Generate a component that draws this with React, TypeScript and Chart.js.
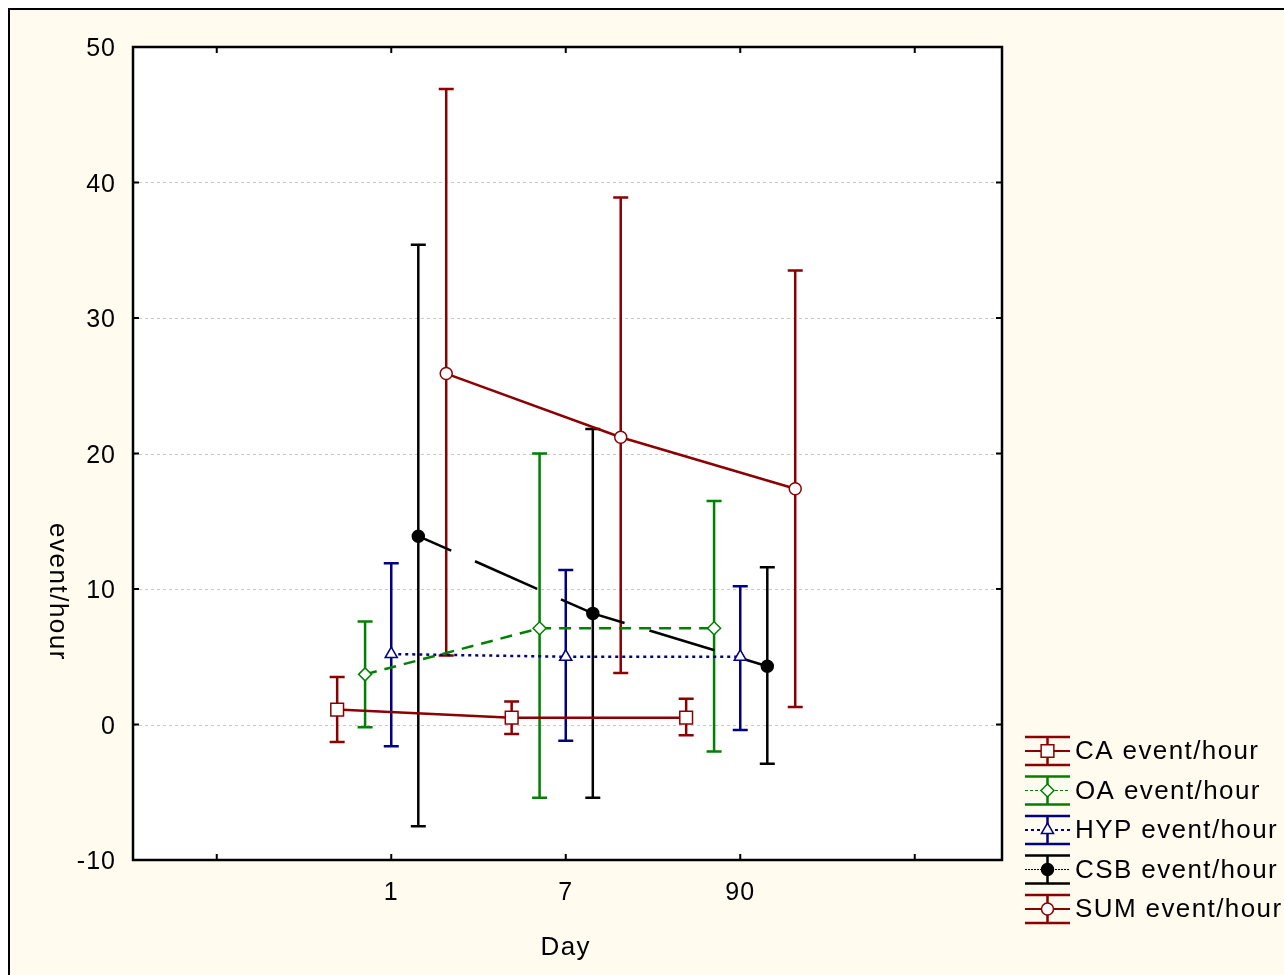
import React, { useEffect, useRef } from "react";
import { Chart, registerables } from "chart.js";
import { drawPoint } from "chart.js/helpers";

Chart.register(...registerables);

// categories on the x axis (Day)
const days = ["1", "7", "90"];
const seriesNames = ["CA event/hour", "OA event/hour", "HYP event/hour", "CSB event/hour", "SUM event/hour"];

// means and error bar ends
const caMean = [1.1, 0.5, 0.5];
const caHigh = [3.5, 1.7, 1.9];
const caLow = [-1.3, -0.7, -0.8];

const oaMean = [3.7, 7.1, 7.1];
const oaHigh = [7.6, 20.0, 16.5];
const oaLow = [-0.2, -5.4, -2.0];

const hypMean = [5.2, 5.0, 5.0];
const hypHigh = [11.9, 11.4, 10.2];
const hypLow = [-1.6, -1.2, -0.4];

const csbMean = [13.9, 8.2, 4.3];
const csbHigh = [35.4, 21.8, 11.6];
const csbLow = [-7.5, -5.4, -2.9];

const sumMean = [25.9, 21.2, 17.4];
const sumHigh = [46.9, 38.9, 33.5];
const sumLow = [5.1, 3.8, 1.3];

const yTicks = [-10, 0, 10, 20, 30, 40, 50];
const xTickMarks = [0, 1, 2, 3, 4];

const means = [caMean, oaMean, hypMean, csbMean, sumMean];
const highs = [caHigh, oaHigh, hypHigh, csbHigh, sumHigh];
const lows = [caLow, oaLow, hypLow, csbLow, sumLow];

// styling per series
const RED = "#8b0000";
const styles = [
  { color: RED, dash: [] as number[], dashOffset: 0, shape: "rect", radius: 9, fill: "#ffffff", offset: -0.31, legendWidth: 2, legendDash: [] as number[] },
  { color: "#008000", dash: [12, 8], dashOffset: 0, shape: "rectRot", radius: 6.5, fill: "#ffffff", offset: -0.15, legendWidth: 1, legendDash: [3, 2] },
  { color: "#000080", dash: [3, 4], dashOffset: 0, shape: "triangle", radius: 7, fill: "#ffffff", offset: 0, legendWidth: 2, legendDash: [3, 3] },
  { color: "#000000", dash: [68, 26], dashOffset: 32, shape: "circle", radius: 6, fill: "#000000", offset: 0.155, legendWidth: 1, legendDash: [2, 1] },
  { color: RED, dash: [], dashOffset: 0, shape: "circle", radius: 6, fill: "#ffffff", offset: 0.315, legendWidth: 2, legendDash: [] },
];

const FONT = "'Liberation Sans', Arial, sans-serif";

const decorPlugin = {
  id: "statDecor",
  beforeDraw(chart: any) {
    const { ctx, chartArea: a } = chart;
    ctx.save();
    ctx.fillStyle = "#ffffff";
    ctx.fillRect(a.left, a.top, a.right - a.left, a.bottom - a.top);
    ctx.restore();
  },
  beforeDatasetsDraw(chart: any) {
    const { ctx, chartArea: a, scales } = chart;
    ctx.save();
    // dashed horizontal grid
    ctx.strokeStyle = "#c8c8c8";
    ctx.lineWidth = 1;
    ctx.setLineDash([3, 3]);
    yTicks.forEach((v) => {
      if (v === -10 || v === 50) return;
      const y = Math.round(scales.y.getPixelForValue(v)) + 0.5;
      ctx.beginPath();
      ctx.moveTo(a.left, y);
      ctx.lineTo(a.right, y);
      ctx.stroke();
    });
    ctx.setLineDash([]);
    // error bars
    ctx.lineWidth = 2.5;
    means.forEach((m, i) => {
      ctx.strokeStyle = styles[i].color;
      m.forEach((_, j) => {
        const x = scales.x.getPixelForValue(j + 1 + styles[i].offset);
        const yh = scales.y.getPixelForValue(highs[i][j]);
        const yl = scales.y.getPixelForValue(lows[i][j]);
        ctx.beginPath();
        ctx.moveTo(x, yh);
        ctx.lineTo(x, yl);
        ctx.moveTo(x - 7.5, yh);
        ctx.lineTo(x + 7.5, yh);
        ctx.moveTo(x - 7.5, yl);
        ctx.lineTo(x + 7.5, yl);
        ctx.stroke();
      });
    });
    ctx.restore();
  },
  afterDraw(chart: any) {
    const { ctx, chartArea: a, scales } = chart;
    ctx.save();
    // frame
    ctx.strokeStyle = "#000";
    ctx.lineWidth = 2.5;
    ctx.strokeRect(a.left, a.top, a.right - a.left, a.bottom - a.top);
    // inward ticks
    ctx.lineWidth = 2;
    ctx.beginPath();
    yTicks.forEach((v) => {
      const y = scales.y.getPixelForValue(v);
      ctx.moveTo(a.left, y);
      ctx.lineTo(a.left + 6, y);
      ctx.moveTo(a.right, y);
      ctx.lineTo(a.right - 6, y);
    });
    xTickMarks.forEach((v) => {
      const x = scales.x.getPixelForValue(v);
      ctx.moveTo(x, a.bottom);
      ctx.lineTo(x, a.bottom - 6);
      ctx.moveTo(x, a.top);
      ctx.lineTo(x, a.top + 6);
    });
    ctx.stroke();

    // tick labels
    ctx.fillStyle = "#000";
    ctx.font = `25px ${FONT}`;
    (ctx as any).letterSpacing = "1px";
    ctx.textAlign = "right";
    ctx.textBaseline = "alphabetic";
    yTicks.forEach((v) => {
      ctx.fillText(String(v), a.left - 17, scales.y.getPixelForValue(v) + 9);
    });
    ctx.textAlign = "center";
    days.forEach((d, j) => {
      ctx.fillText(d, scales.x.getPixelForValue(j + 1), a.bottom + 40);
    });

    // axis titles
    ctx.font = `26px ${FONT}`;
    (ctx as any).letterSpacing = "1.5px";
    ctx.fillText("Day", scales.x.getPixelForValue(2), a.bottom + 95);
    ctx.save();
    ctx.translate(47, 582);
    ctx.rotate(Math.PI / 2);
    ctx.textBaseline = "middle";
    ctx.fillText("event/hour", 0, 0);
    ctx.restore();

    // legend
    const lx0 = 1015;
    const lx1 = 1060;
    const lxc = (lx0 + lx1) / 2;
    ctx.textAlign = "left";
    ctx.textBaseline = "middle";
    (ctx as any).letterSpacing = "1.4px";
    seriesNames.forEach((name, i) => {
      const s = styles[i];
      const y = 741 + i * 39.5;
      ctx.strokeStyle = s.color;
      ctx.lineWidth = 2.5;
      ctx.setLineDash([]);
      ctx.beginPath();
      ctx.moveTo(lx0, y - 14);
      ctx.lineTo(lx1, y - 14);
      ctx.moveTo(lx0, y + 14);
      ctx.lineTo(lx1, y + 14);
      ctx.moveTo(lxc, y - 14);
      ctx.lineTo(lxc, y + 14);
      ctx.stroke();
      ctx.lineWidth = s.legendWidth;
      ctx.setLineDash(s.legendDash);
      ctx.beginPath();
      ctx.moveTo(lx0, y);
      ctx.lineTo(lx1, y);
      ctx.stroke();
      ctx.setLineDash([]);
      ctx.fillStyle = s.fill;
      ctx.lineWidth = 1.5;
      drawPoint(ctx, { pointStyle: s.shape as any, rotation: 0, radius: s.radius, borderWidth: 1.5 }, lxc, y);
      ctx.fillStyle = "#000";
      ctx.fillText(name, lx1 + 5, y + 1);
    });
    ctx.restore();
  },
};

export default function App() {
  const canvasRef = useRef<HTMLCanvasElement>(null);
  const chartRef = useRef<Chart | null>(null);

  useEffect(() => {
    document.body.style.margin = "0";
    if (!canvasRef.current) return;
    const ctx = canvasRef.current.getContext("2d");
    if (!ctx) return;

    chartRef.current = new Chart(ctx, {
      type: "line",
      data: {
        datasets: means.map((m, i) => ({
          label: seriesNames[i],
          data: m.map((v, j) => ({ x: j + 1 + styles[i].offset, y: v })),
          borderColor: styles[i].color,
          borderWidth: 2.5,
          borderDash: styles[i].dash,
          borderDashOffset: styles[i].dashOffset,
          pointStyle: styles[i].shape as any,
          pointRadius: styles[i].radius,
          pointBackgroundColor: styles[i].fill,
          pointBorderColor: styles[i].color,
          pointBorderWidth: 1.5,
          tension: 0,
          fill: false,
        })),
      },
      options: {
        animation: false,
        responsive: true,
        maintainAspectRatio: false,
        events: [],
        layout: { padding: { left: 123, top: 37, right: 282, bottom: 115 } },
        scales: {
          x: { type: "linear", display: false, min: -0.48, max: 4.5 },
          y: { type: "linear", display: false, min: -10, max: 50 },
        },
        plugins: {
          legend: { display: false },
          tooltip: { enabled: false },
        },
      },
      plugins: [decorPlugin],
    });

    return () => {
      if (chartRef.current) {
        chartRef.current.destroy();
        chartRef.current = null;
      }
    };
  }, []);

  return (
    <div style={{ position: "fixed", left: 0, top: 0, width: 1284, height: 975, background: "#ffffff", overflow: "hidden" }}>
      <div
        style={{
          position: "absolute",
          left: 8,
          top: 8,
          width: 1276,
          height: 967,
          boxSizing: "border-box",
          borderLeft: "2px solid #000",
          borderTop: "2px solid #000",
          background: "#fffbef",
        }}
      >
        <div style={{ position: "absolute", left: 0, top: 0, width: 1274, height: 965 }}>
          <canvas ref={canvasRef} />
        </div>
      </div>
    </div>
  );
}
